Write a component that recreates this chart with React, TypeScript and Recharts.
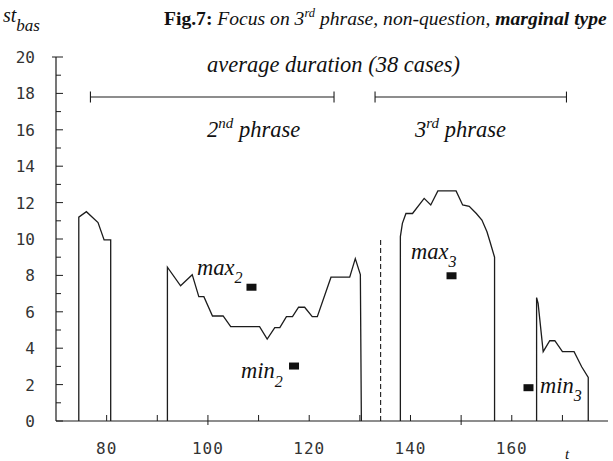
import React from "react";
import { ComposedChart, Line, Scatter, XAxis, YAxis, ReferenceLine } from "recharts";

// first phrase (end part)
const seg1T = [74.5, 74.5, 76.0, 78.3, 79.5, 80.8, 80.8];
const seg1V = [0, 11.2, 11.5, 10.9, 9.95, 9.95, 0];

// 2nd phrase
const seg2T = [92.0, 92.0, 94.6, 96.9, 98.2, 99.2, 100.9, 103.0, 104.5, 110.2, 111.7, 113.2, 114.2, 115.5, 116.7, 117.9, 119.1, 120.6, 121.6, 124.3, 128.0, 129.1, 130.1, 130.3];
const seg2V = [0, 8.45, 7.43, 8.04, 6.83, 6.83, 5.77, 5.77, 5.18, 5.18, 4.5, 5.13, 5.13, 5.73, 5.73, 6.25, 6.25, 5.73, 5.73, 7.9, 7.9, 8.92, 8.04, 0];

// 3rd phrase
const seg3T = [138.0, 138.0, 138.4, 139.1, 140.4, 142.7, 144.0, 145.4, 149.0, 150.3, 151.6, 153.0, 154.1, 155.1, 155.7, 156.6, 156.6];
const seg3V = [0, 10.13, 10.86, 11.4, 11.4, 12.23, 11.87, 12.64, 12.64, 11.87, 11.8, 11.4, 11.04, 10.4, 9.85, 9.0, 0];

// last part
const seg4T = [164.9, 164.9, 165.2, 166.2, 167.5, 168.5, 170.0, 172.3, 173.8, 175.1, 175.1];
const seg4V = [0, 6.78, 6.46, 3.81, 4.41, 4.41, 3.81, 3.81, 2.98, 2.4, 0];

// dashed boundary
const dashT = [134.1, 134.1];
const dashV = [0, 10.05];

// max2, min2, max3, min3
const markT = [108.6, 117.0, 148.1, 163.3];
const markV = [7.35, 3.02, 7.98, 1.83];

// average duration brackets
const bracketStart = [76.8, 133.0];
const bracketEnd = [124.9, 170.8];
const bracketLevel = 17.8;

const xTicks = [80, 90, 100, 110, 120, 130, 140, 150, 160, 170];
const xLabels = [80, 100, 120, 140, 160];
const yTicks = Array.from({ length: 21 }, (_, i) => i);

const zip = (t: number[], v: number[]) => t.map((x, i) => ({ t: x, v: v[i] }));

const INK = "#1c1c1c";
const tickFont = "'DejaVu Sans Mono', monospace";
const serif = "'Liberation Serif', 'Times New Roman', serif";

const XTick = (props: any) => {
  const { x, y, payload } = props;
  const v = payload.value;
  const cross = v === 100 || v === 150;
  return (
    <g>
      <line x1={x} x2={x} y1={y} y2={y - 6} stroke={INK} />
      {cross && <line x1={x} x2={x} y1={y} y2={y + 4} stroke={INK} />}
      {xLabels.includes(v) && (
        <text x={x} y={y + 33} textAnchor="middle" fontFamily={tickFont} fontSize={16} fill="#333" letterSpacing={1}>
          {v}
        </text>
      )}
    </g>
  );
};

const YTick = (props: any) => {
  const { x, y, payload } = props;
  const v = payload.value;
  const major = v % 2 === 0;
  return (
    <g>
      <line x1={x} x2={x + (major ? 7 : 5)} y1={y} y2={y} stroke={INK} />
      {v === 20 && <line x1={x - 4} x2={x} y1={y} y2={y} stroke={INK} />}
      {major && (
        <text x={x - 21} y={y + 6} textAnchor="end" fontFamily={tickFont} fontSize={16} fill="#333">
          {v}
        </text>
      )}
    </g>
  );
};

const Square = (props: any) => {
  const { cx, cy } = props;
  return <rect x={cx - 5} y={cy - 3.5} width={10} height={7} fill="#111" />;
};

export default function App() {
  const lineProps = {
    dataKey: "v",
    stroke: INK,
    strokeWidth: 1.3,
    dot: false,
    activeDot: false,
    isAnimationActive: false,
    type: "linear" as const,
  };
  return (
    <div style={{ position: "absolute", left: 0, top: 0, width: 613, height: 461, background: "#fff" }}>
      <ComposedChart width={613} height={461} margin={{ top: 57, right: 5, bottom: 0, left: 0 }}>
        <XAxis
          type="number"
          dataKey="t"
          domain={[70, 179]}
          ticks={xTicks}
          interval={0}
          tickLine={false}
          tickSize={0}
          tickMargin={0}
          height={40}
          axisLine={{ stroke: INK, strokeWidth: 1.2 }}
          tick={<XTick />}
          allowDataOverflow
        />
        <YAxis
          type="number"
          dataKey="v"
          domain={[0, 20]}
          ticks={yTicks}
          interval={0}
          tickLine={false}
          tickSize={0}
          tickMargin={0}
          width={56}
          axisLine={{ stroke: INK, strokeWidth: 1.2 }}
          tick={<YTick />}
        />
        {bracketStart.map((s, i) => (
          <ReferenceLine
            key={"b" + i}
            segment={[{ x: s, y: bracketLevel }, { x: bracketEnd[i], y: bracketLevel }]}
            stroke={INK}
            strokeWidth={1.1}
          />
        ))}
        {[...bracketStart, ...bracketEnd].map((s, i) => (
          <ReferenceLine
            key={"c" + i}
            segment={[{ x: s, y: bracketLevel - 0.3 }, { x: s, y: bracketLevel + 0.3 }]}
            stroke={INK}
            strokeWidth={1.1}
          />
        ))}
        <Line data={zip(seg1T, seg1V)} {...lineProps} />
        <Line data={zip(seg2T, seg2V)} {...lineProps} />
        <Line data={zip(seg3T, seg3V)} {...lineProps} />
        <Line data={zip(seg4T, seg4V)} {...lineProps} />
        <Line data={zip(dashT, dashV)} {...lineProps} strokeWidth={1.1} strokeDasharray="5 3" />
        <Scatter data={zip(markT, markV)} dataKey="v" shape={<Square />} isAnimationActive={false} />
      </ComposedChart>
      <svg width={613} height={461} style={{ position: "absolute", left: 0, top: 0, pointerEvents: "none" }}>
        <g fontFamily={serif} fill="#111">
          <text x={3} y={22} fontSize={20} fontStyle="italic">
            st
            <tspan fontSize={17} dy={9}>bas</tspan>
          </text>
          <text x={164} y={25} fontSize={19.6}>
            <tspan fontWeight="bold">Fig.7: </tspan>
            <tspan fontStyle="italic">Focus on 3</tspan>
            <tspan fontStyle="italic" fontSize={12.5} dy={-8}>rd</tspan>
            <tspan fontStyle="italic" dy={8}> phrase, non-question, </tspan>
            <tspan fontStyle="italic" fontWeight="bold">marginal type</tspan>
          </text>
          <text x={207} y={72} fontSize={22.5} fontStyle="italic">average duration (38 cases)</text>
          <text x={207} y={137} fontSize={22.5} fontStyle="italic">
            2<tspan fontSize={15} dy={-9}>nd</tspan>
            <tspan dy={9}> phrase</tspan>
          </text>
          <text x={415} y={137} fontSize={22.5} fontStyle="italic">
            3<tspan fontSize={15} dy={-9}>rd</tspan>
            <tspan dy={9}> phrase</tspan>
          </text>
          <text x={197} y={275} fontSize={22.5} fontStyle="italic">
            max<tspan fontSize={16} dy={8}>2</tspan>
          </text>
          <text x={241} y={378} fontSize={22.5} fontStyle="italic">
            min<tspan fontSize={16} dy={9}>2</tspan>
          </text>
          <text x={411} y={259} fontSize={22.5} fontStyle="italic">
            max<tspan fontSize={16} dy={8}>3</tspan>
          </text>
          <text x={540} y={393} fontSize={22.5} fontStyle="italic">
            min<tspan fontSize={16} dy={8}>3</tspan>
          </text>
          <text x={565} y={459} fontSize={15} fontStyle="italic">t</text>
        </g>
      </svg>
    </div>
  );
}
